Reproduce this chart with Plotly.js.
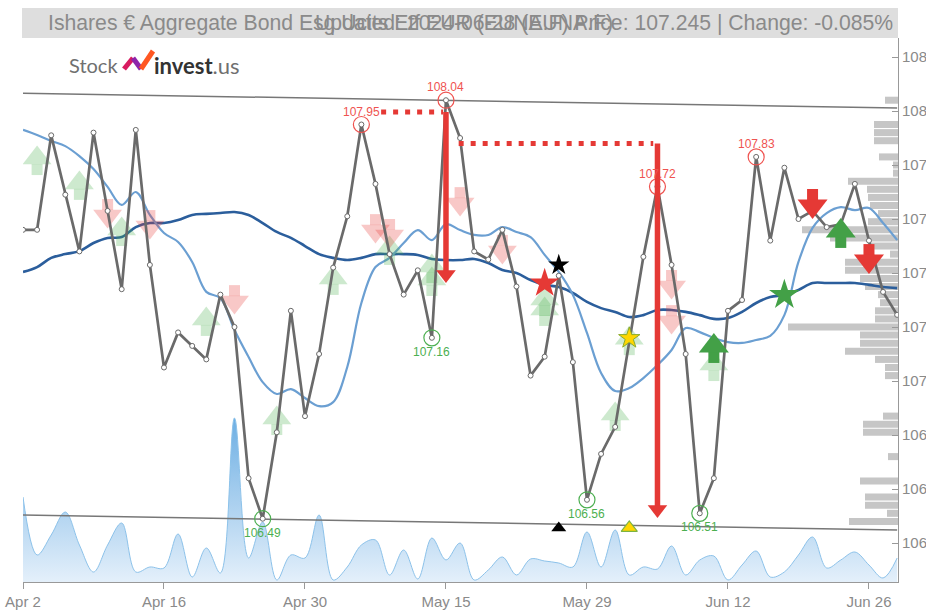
<!DOCTYPE html>
<html><head><meta charset="utf-8">
<script src="https://cdn.plot.ly/plotly-3.0.1.min.js"></script>
<style>html,body{margin:0;padding:0;background:#fff;}#chart{width:926px;height:610px;}</style>
</head><body><div id="chart"></div>
<script>
// ---------- DATA ----------
const dates = ['2024-04-02','2024-04-03','2024-04-04','2024-04-05','2024-04-08','2024-04-09','2024-04-10','2024-04-11','2024-04-12','2024-04-15',
'2024-04-16','2024-04-17','2024-04-18','2024-04-19','2024-04-22','2024-04-23','2024-04-24','2024-04-25','2024-04-26','2024-04-29',
'2024-04-30','2024-05-02','2024-05-03','2024-05-06','2024-05-07','2024-05-08','2024-05-09','2024-05-10','2024-05-13','2024-05-14',
'2024-05-15','2024-05-16','2024-05-17','2024-05-20','2024-05-21','2024-05-22','2024-05-23','2024-05-24','2024-05-27','2024-05-28',
'2024-05-29','2024-05-30','2024-05-31','2024-06-03','2024-06-04','2024-06-05','2024-06-06','2024-06-07','2024-06-10','2024-06-11',
'2024-06-12','2024-06-13','2024-06-14','2024-06-17','2024-06-18','2024-06-19','2024-06-20','2024-06-21','2024-06-24','2024-06-25',
'2024-06-26','2024-06-27','2024-06-28'];
const tickDates = ['2024-04-02','2024-04-16','2024-04-30','2024-05-15','2024-05-29','2024-06-12','2024-06-26'];
const tickLabels = ['Apr 2','Apr 16','Apr 30','May 15','May 29','Jun 12','Jun 26'];

const price = [107.56,107.56,107.91,107.69,107.48,107.92,107.63,107.34,107.93,107.43,
 107.05,107.18,107.13,107.08,107.32,107.20,106.64,106.49,106.81,107.26,
 106.87,107.10,107.42,107.61,107.95,107.73,107.47,107.32,107.41,107.16,
 108.04,107.90,107.48,107.45,107.56,107.35,107.02,107.09,107.39,107.07,
 106.56,106.73,106.83,107.15,107.46,107.72,107.43,107.10,106.51,106.64,
 107.26,107.30,107.83,107.52,107.79,107.60,107.63,107.57,107.58,107.73,
 107.52,107.33,107.245];

const maSlow = [107.404,107.422,107.456,107.470,107.481,107.511,107.530,107.533,107.570,107.585,
 107.585,107.596,107.615,107.619,107.622,107.626,107.615,107.585,107.552,107.530,
 107.500,107.470,107.456,107.448,107.456,107.470,107.470,107.470,107.467,107.452,
 107.448,107.448,107.452,107.437,107.411,107.400,107.374,107.356,107.348,107.326,
 107.293,107.270,107.256,107.237,107.244,107.263,107.263,107.256,107.244,107.230,
 107.233,107.256,107.289,107.311,107.319,107.337,107.363,107.363,107.363,107.363,
 107.356,107.348,107.344];

const maFast = [107.930,107.911,107.889,107.870,107.833,107.785,107.719,107.652,107.700,107.615,
 107.548,107.515,107.441,107.330,107.307,107.189,107.089,106.996,106.952,106.970,
 106.937,106.907,106.922,107.052,107.289,107.422,107.456,107.511,107.559,107.522,
 107.581,107.559,107.541,107.541,107.570,107.552,107.533,107.467,107.404,107.319,
 107.178,107.030,106.963,106.974,107.011,107.059,107.115,107.196,107.181,107.159,
 107.144,107.141,107.152,107.167,107.244,107.441,107.567,107.622,107.644,107.633,
 107.641,107.585,107.522];

const volume = [85,27,47,70,37,10,37,59,10,15,
 14,48,5,34,9,164,24,60,2,27,
 24,67,2,15,37,42,7,32,3,44,
 22,39,2,12,25,7,23,21,19,15,
 50,15,52,7,15,13,36,7,22,26,
 2,17,31,5,10,27,45,14,22,30,
 17,4,24];

// volume profile (price level -> amount)
const profileLevels = [108.04,108.01,107.98,107.95,107.92,107.89,107.86,107.83,107.80,107.77,
 107.74,107.71,107.68,107.65,107.62,107.59,107.56,107.53,107.50,107.47,
 107.44,107.41,107.38,107.35,107.32,107.29,107.26,107.23,107.20,107.17,
 107.14,107.11,107.08,107.05,107.02,106.99,106.96,106.93,106.90,106.87,
 106.84,106.81,106.78,106.75,106.72,106.69,106.66,106.63,106.60,106.57,
 106.54,106.51,106.48];
const profileAmount = [13,0,0,24,24,24,0,19,5,5,
 50,31,30,28,20,30,96,68,30,8,
 53,53,38,33,20,18,23,23,110,38,
 38,53,23,13,13,0,0,0,0,15,
 35,35,0,0,10,0,0,38,0,33,
 33,11,49];

// trend channel (values at first and last day)
const trendIdx = [0, 62];
const trendTop = [108.066, 108.011];
const trendBottom = [106.504, 106.448];

// local highs / lows
const highIdx = [24, 30, 45, 52];
const lowIdx = [17, 29, 40, 48];

// resistance dotted levels and drop arrows
const dot1X = [25.4, 29.8], dot1Y = [107.996, 107.996];
const dot2X = [30.9, 44.7], dot2Y = [107.88, 107.88];
const dropIdx = [30, 45];
const dropFrom = [107.996, 107.88];
const dropTo = [107.363, 106.493];

// signals
const fadedUpIdx = [1,4,7,13,18,22,26,29,29,37,37,42,43,49];
const fadedUpVal = [107.811,107.719,107.548,107.215,106.848,107.367,107.478,107.411,107.363,107.289,107.252,106.863,107.144,107.048];
const fadedDownIdx = [6,9,15,25,26,31,34,46,46];
const fadedDownVal = [107.626,107.585,107.307,107.570,107.552,107.670,107.493,107.363,107.233];
const buyIdx = [58, 49], buyVal = [107.541, 107.115];
const sellIdx = [56, 60], sellVal = [107.663, 107.459];
const redStarIdx = [37], redStarVal = [107.362];
const blackStarIdx = [38], blackStarVal = [107.430];
const greenStarIdx = [54], greenStarVal = [107.319];
const yellowStarIdx = [43], yellowStarVal = [107.159];
const blackTriIdx = [38], blackTriVal = [106.456];
const yellowTriIdx = [43], yellowTriVal = [106.456];

// ---------- BUILD ----------
const X = dates.map((d, i) => i);
const tickVals = tickDates.map(d => dates.indexOf(d));
const yMin = 106.2556, yMax = 108.2704;
const plotH = 610 - 38 - 28;
const u = (yMax - yMin) / plotH;
const RED = '#e53935', GREEN = '#43a047';
const FONT = 'Liberation Sans, Arial, sans-serif';

const P = {xaxis: 'x3', yaxis: 'y3', hoverinfo: 'skip', type: 'scatter'};
const traces = [];

// volume (base subplot)
traces.push({x: X, y: volume, type: 'scatter', mode: 'lines', xaxis: 'x', yaxis: 'y',
  line: {shape: 'spline', smoothing: 1, color: '#8cc2ea', width: 1},
  fill: 'tozeroy', fillcolor: 'rgba(150,200,238,0.5)',
  fillgradient: {type: 'vertical', start: 0, stop: 165,
    colorscale: [[0, 'rgba(225,238,250,0.9)'], [0.45, 'rgba(165,205,238,0.9)'], [1, 'rgba(100,170,226,0.95)']]},
  hoverinfo: 'skip'});

// volume profile bars
traces.push({type: 'bar', orientation: 'h', x: profileAmount, y: profileLevels, xaxis: 'x2', yaxis: 'y2',
  width: 0.026, marker: {color: '#c6c6c6', line: {width: 0}}, hoverinfo: 'skip'});

// trend channel
traces.push(Object.assign({x: trendIdx, y: trendTop, mode: 'lines', line: {color: '#777', width: 1.5}}, P));
traces.push(Object.assign({x: trendIdx, y: trendBottom, mode: 'lines', line: {color: '#777', width: 1.5}}, P));

// moving averages
traces.push(Object.assign({x: X, y: maSlow, mode: 'lines', line: {color: '#2b5e9c', width: 2.6, shape: 'spline'}}, P));
traces.push(Object.assign({x: X, y: maFast, mode: 'lines', line: {color: '#6b9fd2', width: 2.2, shape: 'spline'}}, P));

function blockArrows(idx, val, up, color, head, stem) {
  const dir = up ? 1 : -1;
  return [
    Object.assign({x: idx, y: val.map(v => v - dir * 7.5 * u), mode: 'markers',
      marker: {symbol: 'square', size: stem, color: color, line: {width: 0}}}, P),
    Object.assign({x: idx, y: val.map(v => v + dir * 4 * u), mode: 'markers',
      marker: {symbol: up ? 'triangle-up' : 'triangle-down', size: head, color: color, line: {width: 0}}}, P)
  ];
}
traces.push(...blockArrows(fadedUpIdx, fadedUpVal, true, 'rgba(76,175,80,0.28)', 25, 11));
traces.push(...blockArrows(fadedDownIdx, fadedDownVal, false, 'rgba(229,57,53,0.28)', 25, 11));

// price
traces.push(Object.assign({x: X, y: price, mode: 'lines+markers',
  line: {color: '#6a6a6a', width: 2.7},
  marker: {symbol: 'circle', size: 5, color: '#fff', line: {color: '#6a6a6a', width: 1}}}, P));

// highs & lows
traces.push(Object.assign({x: highIdx, y: highIdx.map(i => price[i]), mode: 'markers',
  marker: {symbol: 'circle-open', size: 16, color: '#ef5350', line: {width: 1.2}}}, P));
traces.push(Object.assign({x: lowIdx, y: lowIdx.map(i => price[i]), mode: 'markers',
  marker: {symbol: 'circle-open', size: 16, color: '#4caf50', line: {width: 1.2}}}, P));

// dotted levels
traces.push(Object.assign({x: dot1X, y: dot1Y, mode: 'lines', line: {color: RED, width: 5, dash: '5px,7px'}}, P));
traces.push(Object.assign({x: dot2X, y: dot2Y, mode: 'lines', line: {color: RED, width: 5, dash: '5px,7px'}}, P));

// drop arrows
dropIdx.forEach((ix, k) => {
  traces.push(Object.assign({x: [ix, ix], y: [dropFrom[k], dropTo[k] + 8 * u], mode: 'lines',
    line: {color: RED, width: 5.5}}, P));
});
traces.push(Object.assign({x: dropIdx, y: dropTo.map(v => v + 8.5 * u), mode: 'markers',
  marker: {symbol: 'triangle-down', size: 17, color: RED, line: {width: 0}}}, P));

// solid signals
traces.push(...blockArrows(buyIdx, buyVal, true, GREEN, 26, 11));
traces.push(...blockArrows(sellIdx, sellVal, false, RED, 26, 11));
traces.push(Object.assign({x: redStarIdx, y: redStarVal, mode: 'markers', marker: {symbol: 'star', size: 22, color: RED, line: {width: 0}}}, P));
traces.push(Object.assign({x: greenStarIdx, y: greenStarVal, mode: 'markers', marker: {symbol: 'star', size: 23, color: GREEN, line: {width: 0}}}, P));
traces.push(Object.assign({x: blackStarIdx, y: blackStarVal, mode: 'markers', marker: {symbol: 'star', size: 16, color: '#000', line: {width: 0}}}, P));
traces.push(Object.assign({x: yellowStarIdx, y: yellowStarVal, mode: 'markers', marker: {symbol: 'star', size: 16, color: '#ffd600', line: {color: '#8bab2a', width: 1}}}, P));
traces.push(Object.assign({x: blackTriIdx, y: blackTriVal, mode: 'markers', marker: {symbol: 'triangle-up', size: 13, color: '#000', line: {width: 0}}}, P));
traces.push(Object.assign({x: yellowTriIdx, y: yellowTriVal, mode: 'markers', marker: {symbol: 'triangle-up', size: 14, color: '#ffd600', line: {color: '#7cb342', width: 1.2}}}, P));

// annotations
const ann = [];
highIdx.forEach(i => ann.push({x: i, y: price[i], xref: 'x3', yref: 'y3', text: price[i].toFixed(2), showarrow: false,
  yshift: 13, font: {family: FONT, size: 12, color: '#ef5350'}}));
lowIdx.forEach(i => ann.push({x: i, y: price[i], xref: 'x3', yref: 'y3', text: price[i].toFixed(2), showarrow: false,
  yshift: -14, font: {family: FONT, size: 12, color: '#4caf50'}}));

const px2x = p => (p - 23) / 875;
const py2y = p => (582 - p) / 544;
ann.push({xref: 'paper', yref: 'paper', x: px2x(470), y: py2y(23), xanchor: 'center', yanchor: 'middle', showarrow: false,
  text: 'Ishares € Aggregate Bond Esg Ucits Etf EUR (EUNA.F) Price: 107.245 | Change: -0.085%',
  font: {family: FONT, size: 21.2, color: '#8a8a8a'}});
ann.push({xref: 'paper', yref: 'paper', x: px2x(464), y: py2y(23), xanchor: 'center', yanchor: 'middle', showarrow: false,
  text: 'Updated: 2024-06-28 (EUNA.F)', font: {family: FONT, size: 21.2, color: '#8a8a8a'}});
ann.push({xref: 'paper', yref: 'paper', x: px2x(67), y: py2y(65), xanchor: 'left', yanchor: 'middle', showarrow: false,
  text: 'Stock', font: {family: 'Lato, Noto Sans, sans-serif', size: 20, color: '#707070'}});
ann.push({xref: 'paper', yref: 'paper', x: px2x(152), y: py2y(65), xanchor: 'left', yanchor: 'middle', showarrow: false,
  text: '<span style="color:#333"><b>invest</b></span><span style="color:#707070">.us</span>',
  font: {family: 'Lato, Noto Sans, sans-serif', size: 22, color: '#333'}});

const shapes = [
  {type: 'rect', xref: 'paper', yref: 'paper', x0: px2x(22), x1: px2x(898), y0: py2y(38), y1: py2y(8),
   fillcolor: '#dedede', line: {width: 0}, layer: 'below'},
  {type: 'line', xref: 'paper', yref: 'paper', x0: px2x(124), y0: py2y(69), x1: px2x(133), y1: py2y(58), line: {color: '#d81b60', width: 5}},
  {type: 'line', xref: 'paper', yref: 'paper', x0: px2x(133), y0: py2y(58), x1: px2x(141), y1: py2y(69), line: {color: '#8e24aa', width: 5}},
  {type: 'line', xref: 'paper', yref: 'paper', x0: px2x(141), y0: py2y(69), x1: px2x(153), y1: py2y(51), line: {color: '#ff5722', width: 5}}
];

const axFont = {family: FONT, size: 15, color: '#8a8a8a'};
const layout = {
  width: 926, height: 610,
  margin: {l: 23, r: 28, t: 38, b: 28, pad: 0},
  paper_bgcolor: '#fff', plot_bgcolor: '#fff',
  showlegend: false, hovermode: false,
  xaxis: {range: [0, 62.06], tickvals: tickVals, ticktext: tickLabels, showgrid: false, zeroline: false,
    showline: true, linecolor: '#999', linewidth: 1, ticks: 'outside', ticklen: 6, tickcolor: '#999', tickfont: axFont},
  yaxis: {range: [0, 544], visible: false, showgrid: false, zeroline: false},
  xaxis2: {overlaying: 'x', range: [875, 0], visible: false, showgrid: false, zeroline: false},
  yaxis2: {overlaying: 'y', range: [yMin, yMax], visible: false, showgrid: false, zeroline: false},
  xaxis3: {overlaying: 'x', range: [0, 62.06], visible: false, showgrid: false, zeroline: false},
  yaxis3: {overlaying: 'y', anchor: 'x', side: 'right', range: [yMin, yMax], tick0: 106.4, dtick: 0.2, tickformat: '.1f',
    showgrid: false, zeroline: false, showline: true, linecolor: '#999', linewidth: 1,
    ticks: 'inside', ticklen: 6, tickcolor: '#999', tickfont: axFont},
  annotations: ann,
  shapes: shapes
};
Plotly.newPlot('chart', traces, layout, {displayModeBar: false, staticPlot: true});
</script></body></html>
